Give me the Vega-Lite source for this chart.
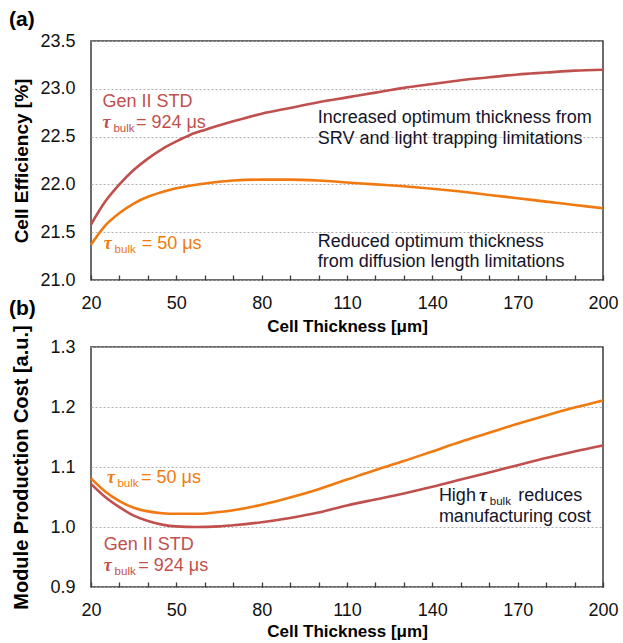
{
  "$schema": "https://vega.github.io/schema/vega-lite/v6.json",
  "background": "white",
  "padding": {"left": 8, "top": 8, "right": 5, "bottom": 5},
  "bounds": "flush",
  "spacing": 67,
  "config": {
    "font": "Liberation Sans",
    "view": {"stroke": "#3c3c3c", "strokeWidth": 1.5},
    "axis": {"labelColor": "#111", "titleColor": "#000", "labelFontSize": 18, "titleFontSize": 17, "titleFontWeight": "bold", "domain": false}
  },
  "datasets": {
    "eff": [
      {"t": 20, "v": 21.58, "s": "924"}, {"t": 25, "v": 21.82, "s": "924"}, {"t": 30, "v": 22.0, "s": "924"}, {"t": 35, "v": 22.15, "s": "924"}, {"t": 40, "v": 22.27, "s": "924"}, {"t": 45, "v": 22.37, "s": "924"}, {"t": 50, "v": 22.45, "s": "924"}, {"t": 55, "v": 22.52, "s": "924"}, {"t": 60, "v": 22.57, "s": "924"}, {"t": 70, "v": 22.66, "s": "924"}, {"t": 80, "v": 22.74, "s": "924"}, {"t": 90, "v": 22.8, "s": "924"}, {"t": 100, "v": 22.86, "s": "924"}, {"t": 110, "v": 22.91, "s": "924"}, {"t": 120, "v": 22.96, "s": "924"}, {"t": 130, "v": 23.01, "s": "924"}, {"t": 140, "v": 23.05, "s": "924"}, {"t": 150, "v": 23.09, "s": "924"}, {"t": 160, "v": 23.12, "s": "924"}, {"t": 170, "v": 23.15, "s": "924"}, {"t": 180, "v": 23.17, "s": "924"}, {"t": 190, "v": 23.19, "s": "924"}, {"t": 200, "v": 23.2, "s": "924"},
      {"t": 20, "v": 21.37, "s": "50"}, {"t": 25, "v": 21.57, "s": "50"}, {"t": 30, "v": 21.7, "s": "50"}, {"t": 35, "v": 21.8, "s": "50"}, {"t": 40, "v": 21.87, "s": "50"}, {"t": 45, "v": 21.92, "s": "50"}, {"t": 50, "v": 21.96, "s": "50"}, {"t": 60, "v": 22.01, "s": "50"}, {"t": 70, "v": 22.04, "s": "50"}, {"t": 80, "v": 22.05, "s": "50"}, {"t": 90, "v": 22.05, "s": "50"}, {"t": 100, "v": 22.04, "s": "50"}, {"t": 110, "v": 22.02, "s": "50"}, {"t": 120, "v": 22.0, "s": "50"}, {"t": 130, "v": 21.98, "s": "50"}, {"t": 140, "v": 21.955, "s": "50"}, {"t": 150, "v": 21.925, "s": "50"}, {"t": 160, "v": 21.89, "s": "50"}, {"t": 170, "v": 21.855, "s": "50"}, {"t": 180, "v": 21.82, "s": "50"}, {"t": 190, "v": 21.785, "s": "50"}, {"t": 200, "v": 21.75, "s": "50"}
    ],
    "cost": [
      {"t": 20, "v": 1.072, "s": "924"}, {"t": 25, "v": 1.05, "s": "924"}, {"t": 30, "v": 1.033, "s": "924"}, {"t": 35, "v": 1.019, "s": "924"}, {"t": 40, "v": 1.01, "s": "924"}, {"t": 45, "v": 1.004, "s": "924"}, {"t": 50, "v": 1.001, "s": "924"}, {"t": 57, "v": 1.0, "s": "924"}, {"t": 65, "v": 1.001, "s": "924"}, {"t": 70, "v": 1.003, "s": "924"}, {"t": 80, "v": 1.008, "s": "924"}, {"t": 90, "v": 1.015, "s": "924"}, {"t": 100, "v": 1.024, "s": "924"}, {"t": 110, "v": 1.036, "s": "924"}, {"t": 120, "v": 1.046, "s": "924"}, {"t": 130, "v": 1.056, "s": "924"}, {"t": 140, "v": 1.067, "s": "924"}, {"t": 150, "v": 1.079, "s": "924"}, {"t": 160, "v": 1.091, "s": "924"}, {"t": 170, "v": 1.103, "s": "924"}, {"t": 180, "v": 1.115, "s": "924"}, {"t": 190, "v": 1.126, "s": "924"}, {"t": 200, "v": 1.136, "s": "924"},
      {"t": 20, "v": 1.081, "s": "50"}, {"t": 25, "v": 1.059, "s": "50"}, {"t": 30, "v": 1.043, "s": "50"}, {"t": 35, "v": 1.032, "s": "50"}, {"t": 40, "v": 1.026, "s": "50"}, {"t": 45, "v": 1.023, "s": "50"}, {"t": 50, "v": 1.022, "s": "50"}, {"t": 58, "v": 1.022, "s": "50"}, {"t": 65, "v": 1.025, "s": "50"}, {"t": 70, "v": 1.028, "s": "50"}, {"t": 80, "v": 1.037, "s": "50"}, {"t": 90, "v": 1.049, "s": "50"}, {"t": 100, "v": 1.063, "s": "50"}, {"t": 110, "v": 1.079, "s": "50"}, {"t": 120, "v": 1.095, "s": "50"}, {"t": 130, "v": 1.11, "s": "50"}, {"t": 140, "v": 1.126, "s": "50"}, {"t": 150, "v": 1.142, "s": "50"}, {"t": 160, "v": 1.157, "s": "50"}, {"t": 170, "v": 1.172, "s": "50"}, {"t": 180, "v": 1.186, "s": "50"}, {"t": 190, "v": 1.199, "s": "50"}, {"t": 200, "v": 1.211, "s": "50"}
    ],
    "annA": [
      {"k": "main", "s": "924", "x": 24.0, "y": 22.81, "txt": "Gen II STD"},
      {"k": "tau", "s": "924", "x": 24.0, "y": 22.59, "txt": "τ"},
      {"k": "sub", "s": "924", "x": 27.9, "y": 22.552, "txt": "bulk"},
      {"k": "main", "s": "924", "x": 35.8, "y": 22.59, "txt": "= 924 μs"},
      {"k": "tau", "s": "50", "x": 24.5, "y": 21.327, "txt": "τ"},
      {"k": "sub", "s": "50", "x": 28.3, "y": 21.285, "txt": "bulk"},
      {"k": "main", "s": "50", "x": 37.8, "y": 21.327, "txt": "= 50 μs"},
      {"k": "main", "s": "note", "x": 99.7, "y": 22.64, "txt": "Increased optimum thickness from"},
      {"k": "main", "s": "note", "x": 99.7, "y": 22.424, "txt": "SRV and light trapping limitations"},
      {"k": "main", "s": "note", "x": 99.7, "y": 21.34, "txt": "Reduced optimum thickness"},
      {"k": "main", "s": "note", "x": 99.7, "y": 21.135, "txt": "from diffusion length limitations"}
    ],
    "annB": [
      {"k": "tau", "s": "50", "x": 25.6, "y": 1.0735, "txt": "τ"},
      {"k": "sub", "s": "50", "x": 29.3, "y": 1.0668, "txt": "bulk"},
      {"k": "main", "s": "50", "x": 37.6, "y": 1.0735, "txt": "= 50 μs"},
      {"k": "main", "s": "924", "x": 24.5, "y": 0.961, "txt": "Gen II STD"},
      {"k": "tau", "s": "924", "x": 24.5, "y": 0.9265, "txt": "τ"},
      {"k": "sub", "s": "924", "x": 28.3, "y": 0.9198, "txt": "bulk"},
      {"k": "main", "s": "924", "x": 36.6, "y": 0.9265, "txt": "= 924 μs"},
      {"k": "main", "s": "note", "x": 142.3, "y": 1.043, "txt": "High"},
      {"k": "tau", "s": "note", "x": 156.4, "y": 1.043, "txt": "τ"},
      {"k": "sub", "s": "note", "x": 160.2, "y": 1.0363, "txt": "bulk"},
      {"k": "main", "s": "note", "x": 170.2, "y": 1.043, "txt": "reduces"},
      {"k": "main", "s": "note", "x": 142.3, "y": 1.0084, "txt": "manufacturing cost"}
    ]
  },
  "vconcat": [
    {
      "width": 512,
      "height": 239,
      "title": {"text": "(a)", "anchor": "start", "frame": "group", "dx": -82, "offset": 2, "fontSize": 21, "fontWeight": "bold", "color": "#000"},
      "resolve": {"axis": {"x": "independent"}},
      "layer": [
        {
          "data": {"name": "eff"},
          "mark": {"type": "line", "strokeWidth": 2.6, "interpolate": "monotone"},
          "encoding": {
            "x": {"field": "t", "type": "quantitative", "scale": {"domain": [20, 200], "nice": false},
              "axis": {"orient": "bottom", "title": "Cell Thickness [μm]", "values": [20, 50, 80, 110, 140, 170, 200], "labelOverlap": false, "labelFlush": false, "grid": false, "ticks": false, "labelPadding": 14, "titlePadding": 6}},
            "y": {"field": "v", "type": "quantitative", "scale": {"domain": [21, 23.5], "nice": false, "zero": false},
              "axis": {"title": "Cell Efficiency [%]", "titleFontSize": 19, "values": [21, 21.5, 22, 22.5, 23, 23.5], "format": ".1f", "ticks": false, "labelPadding": 16, "minExtent": 56, "maxExtent": 56, "titlePadding": 4, "grid": true, "gridDash": [2, 2], "gridColor": "#b0b0b0", "gridWidth": 1}},
            "color": {"field": "s", "type": "nominal", "scale": {"domain": ["924", "50", "note"], "range": ["#c0504d", "#f07a10", "#141428"]}, "legend": null}
          }
        },
        {
          "data": {"name": "annA"},
          "transform": [{"filter": "datum.k === 'main'"}],
          "mark": {"type": "text", "align": "left", "baseline": "alphabetic", "fontSize": 18},
          "encoding": {
            "x": {"field": "x", "type": "quantitative", "axis": {"orient": "bottom", "title": null, "values": [20, 30, 40, 50, 60, 70, 80, 90, 100, 110, 120, 130, 140, 150, 160, 170, 180, 190, 200], "labels": false, "grid": false, "tickSize": -5, "tickColor": "#3c3c3c", "tickWidth": 1.3}},
            "y": {"field": "y", "type": "quantitative"}, "text": {"field": "txt"}, "color": {"field": "s", "type": "nominal", "legend": null}}
        },
        {
          "data": {"name": "annA"},
          "transform": [{"filter": "datum.k === 'tau'"}],
          "mark": {"type": "text", "align": "left", "baseline": "alphabetic", "fontSize": 18, "fontWeight": "bold", "fontStyle": "italic", "font": "Liberation Serif"},
          "encoding": {"x": {"field": "x", "type": "quantitative", "axis": null}, "y": {"field": "y", "type": "quantitative"}, "text": {"field": "txt"}, "color": {"field": "s", "type": "nominal", "legend": null}}
        },
        {
          "data": {"name": "annA"},
          "transform": [{"filter": "datum.k === 'sub'"}],
          "mark": {"type": "text", "align": "left", "baseline": "alphabetic", "fontSize": 11.5},
          "encoding": {"x": {"field": "x", "type": "quantitative", "axis": null}, "y": {"field": "y", "type": "quantitative"}, "text": {"field": "txt"}, "color": {"field": "s", "type": "nominal", "legend": null}}
        }
      ]
    },
    {
      "width": 512,
      "height": 240,
      "title": {"text": "(b)", "anchor": "start", "frame": "group", "dx": -82, "offset": 6, "fontSize": 21, "fontWeight": "bold", "color": "#000"},
      "resolve": {"axis": {"x": "independent"}},
      "layer": [
        {
          "data": {"name": "cost"},
          "mark": {"type": "line", "strokeWidth": 2.6, "interpolate": "monotone"},
          "encoding": {
            "x": {"field": "t", "type": "quantitative", "scale": {"domain": [20, 200], "nice": false},
              "axis": {"orient": "bottom", "title": "Cell Thickness [μm]", "values": [20, 50, 80, 110, 140, 170, 200], "labelOverlap": false, "labelFlush": false, "grid": false, "ticks": false, "labelPadding": 14, "titlePadding": 4}},
            "y": {"field": "v", "type": "quantitative", "scale": {"domain": [0.9, 1.3], "nice": false, "zero": false},
              "axis": {"title": "Module Production Cost [a.u.]", "titleFontSize": 20, "values": [0.9, 1.0, 1.1, 1.2, 1.3], "format": ".1f", "ticks": false, "labelPadding": 16, "minExtent": 56, "maxExtent": 56, "titlePadding": 4, "grid": true, "gridDash": [2, 2], "gridColor": "#b0b0b0", "gridWidth": 1}},
            "color": {"field": "s", "type": "nominal", "scale": {"domain": ["924", "50", "note"], "range": ["#c0504d", "#f07a10", "#141428"]}, "legend": null}
          }
        },
        {
          "data": {"name": "annB"},
          "transform": [{"filter": "datum.k === 'main'"}],
          "mark": {"type": "text", "align": "left", "baseline": "alphabetic", "fontSize": 18},
          "encoding": {
            "x": {"field": "x", "type": "quantitative", "axis": {"orient": "bottom", "title": null, "values": [20, 30, 40, 50, 60, 70, 80, 90, 100, 110, 120, 130, 140, 150, 160, 170, 180, 190, 200], "labels": false, "grid": false, "tickSize": -5, "tickColor": "#3c3c3c", "tickWidth": 1.3}},
            "y": {"field": "y", "type": "quantitative"}, "text": {"field": "txt"}, "color": {"field": "s", "type": "nominal", "legend": null}}
        },
        {
          "data": {"name": "annB"},
          "transform": [{"filter": "datum.k === 'tau'"}],
          "mark": {"type": "text", "align": "left", "baseline": "alphabetic", "fontSize": 18, "fontWeight": "bold", "fontStyle": "italic", "font": "Liberation Serif"},
          "encoding": {"x": {"field": "x", "type": "quantitative", "axis": null}, "y": {"field": "y", "type": "quantitative"}, "text": {"field": "txt"}, "color": {"field": "s", "type": "nominal", "legend": null}}
        },
        {
          "data": {"name": "annB"},
          "transform": [{"filter": "datum.k === 'sub'"}],
          "mark": {"type": "text", "align": "left", "baseline": "alphabetic", "fontSize": 11.5},
          "encoding": {"x": {"field": "x", "type": "quantitative", "axis": null}, "y": {"field": "y", "type": "quantitative"}, "text": {"field": "txt"}, "color": {"field": "s", "type": "nominal", "legend": null}}
        }
      ]
    }
  ]
}
